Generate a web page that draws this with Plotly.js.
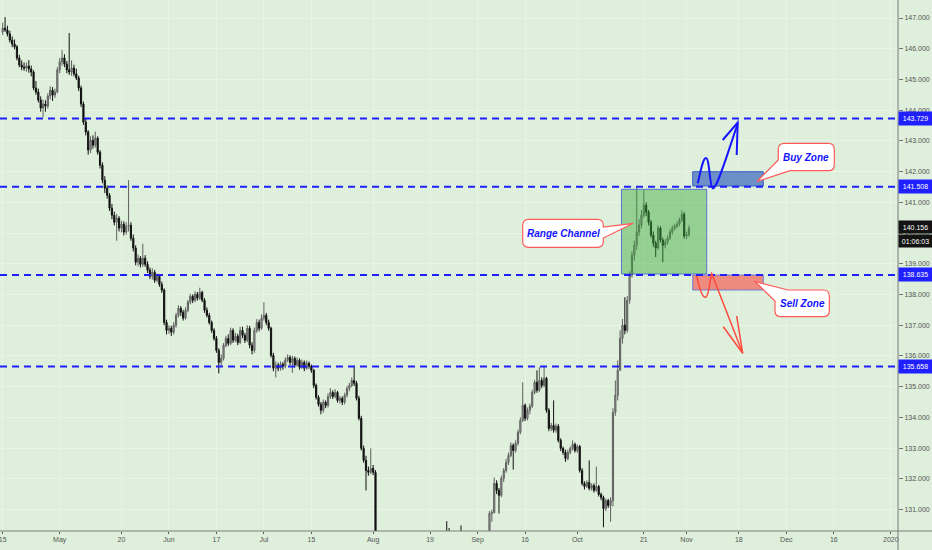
<!DOCTYPE html>
<html><head><meta charset="utf-8">
<script src="https://cdn.plot.ly/plotly-3.0.1.min.js"></script>
<style>html,body{margin:0;padding:0;background:#deefdb;overflow:hidden}</style>
</head><body><div id="chart" style="width:932px;height:550px"></div>
<script>
// ---- data: 12-hour candles, 15 Apr 2019 -> 1 Nov 2019 (weekdays) ----
const opens=[
146.55,146.67,146.61,146.48,146.28,146.15,146.06,145.70,145.47,145.40,
145.37,145.44,145.34,145.24,144.72,144.59,144.33,144.07,144.20,144.13,
144.46,144.65,144.49,144.59,145.31,145.57,145.70,145.50,145.31,145.24,
145.37,145.18,145.05,144.72,144.20,143.61,143.29,142.70,143.02,142.86,
143.09,142.63,142.21,141.72,141.46,141.23,140.81,140.58,140.35,140.48,
140.16,140.29,140.03,140.22,140.25,139.83,139.51,139.05,139.18,138.98,
139.18,138.98,138.79,138.59,138.72,138.46,138.59,138.33,138.14,137.09,
136.83,136.90,136.77,137.00,137.32,137.55,137.42,137.23,137.49,137.75,
137.94,137.81,138.01,137.88,138.07,137.81,137.49,137.32,137.09,136.83,
136.57,136.18,135.79,135.92,136.35,136.57,136.41,136.83,136.51,136.64,
136.44,136.83,136.67,136.51,136.90,136.35,136.18,136.83,137.09,136.90,
137.23,137.32,137.09,136.90,136.02,135.60,135.70,135.60,135.73,135.66,
135.86,135.95,135.79,135.92,135.70,135.86,135.63,135.79,135.60,135.76,
135.66,135.53,135.04,134.65,134.42,134.23,134.49,134.39,134.68,134.81,
134.68,134.81,134.55,134.62,134.49,134.72,134.94,135.04,135.20,135.11,
134.62,133.97,132.99,132.60,132.27,132.21,132.34,132.21,129.25,128.90,
128.45,128.00,127.90,128.40,128.20,127.60,127.90,128.30,128.10,127.90,
127.70,127.40,127.30,127.80,128.30,127.60,127.40,127.90,128.30,128.60,
128.90,
129.10,128.50,128.90,129.20,129.40,129.90,129.80,129.60,
128.90,129.40,129.80,129.90,129.50,129.30,129.00,129.50,129.30,128.90,
128.60,128.20,127.80,127.00,126.80,127.90,128.80,130.87,130.90,131.85,
131.62,131.46,132.01,132.27,132.53,132.76,133.09,132.92,133.15,133.51,
133.90,134.39,133.97,134.23,134.36,134.81,135.14,134.88,135.20,135.04,
135.27,134.23,133.64,133.74,133.58,133.71,133.25,132.99,132.86,132.66,
132.86,132.99,133.12,132.92,133.05,132.27,131.85,131.75,131.88,131.69,
131.78,131.62,131.75,131.49,131.39,131.03,131.29,131.13,131.29,134.16,
134.72,135.53,136.57,137.00,136.83,137.81,138.63,139.28,139.60,140.03,
140.26,140.58,140.91,140.68,140.35,139.93,139.67,139.51,140.16,139.77,
139.60,139.70,139.83,140.03,140.16,140.22,140.29,140.42,140.61,
139.90,139.95];
const highs=[
146.85,147.03,146.75,146.58,146.40,146.30,146.12,145.80,145.62,145.55,
145.55,145.63,145.45,145.30,144.95,144.70,144.45,144.35,144.32,144.55,
144.78,144.75,144.70,145.40,145.70,145.96,145.82,145.60,146.51,145.62,
145.48,145.35,145.12,144.80,144.28,143.72,143.35,143.15,143.18,143.30,
143.15,142.70,142.30,141.85,141.55,141.30,140.95,140.70,140.62,140.55,
140.40,140.38,140.35,141.72,140.35,139.95,139.60,139.30,139.25,139.65,
139.28,139.08,138.88,138.85,138.80,138.68,138.65,138.42,138.20,137.18,
137.00,136.98,137.10,137.40,137.65,137.62,137.50,137.58,137.82,138.02,
138.00,138.10,138.08,138.22,138.12,137.88,137.58,137.40,137.15,136.90,
136.65,136.25,136.05,136.42,136.65,136.70,136.92,136.90,136.75,136.72,
136.95,136.95,136.75,137.00,136.98,136.45,136.92,137.20,137.18,137.35,
137.75,137.40,137.18,136.95,136.10,135.82,135.78,135.82,135.80,135.95,
136.05,136.02,136.00,135.98,135.95,135.92,135.88,135.85,135.85,135.82,
135.72,135.58,135.10,134.72,134.50,134.58,134.55,134.78,134.95,134.88,
134.92,134.86,134.70,134.68,134.80,135.02,135.12,135.30,135.66,135.18,
134.70,134.05,133.08,132.75,132.40,132.99,132.45,132.28,129.40,129.05,
128.55,128.20,128.50,128.55,128.30,128.00,128.40,128.45,128.20,128.00,
127.80,127.55,127.90,128.40,128.35,127.70,128.00,128.40,128.70,129.00,
129.25,
129.20,129.00,129.30,129.50,130.00,130.30,130.62,130.40,
129.50,129.90,130.30,130.20,130.48,129.40,129.60,129.60,129.40,129.00,
128.70,128.30,127.90,127.10,128.00,128.90,130.95,131.00,132.04,131.95,
131.70,132.10,132.35,132.65,132.85,133.18,133.15,133.25,133.60,134.00,
135.14,134.45,134.32,134.45,134.90,135.22,135.53,135.63,135.30,135.66,
135.32,134.30,133.82,134.55,133.80,133.78,133.32,133.05,132.95,132.95,
133.05,133.25,133.18,133.12,133.10,132.35,131.92,131.95,132.60,131.85,
131.85,132.40,131.80,131.55,131.45,131.35,131.35,131.40,134.30,135.20,
135.85,136.83,137.20,137.91,137.95,138.75,139.40,139.75,141.53,140.45,
140.75,141.40,141.00,140.75,140.42,140.05,139.75,140.25,140.22,139.85,
139.80,139.92,140.12,140.25,140.30,140.38,140.50,140.74,140.68,
140.05,140.25];
const lows=[
146.45,146.55,146.40,146.20,146.05,145.98,145.62,145.40,145.30,145.28,
145.25,145.22,145.10,144.65,144.50,144.25,143.95,143.77,143.95,144.05,
144.35,144.30,144.40,144.55,145.20,145.45,145.40,145.20,145.15,145.12,
145.10,144.98,144.62,144.10,143.52,143.18,142.55,142.60,142.75,142.78,
142.55,142.10,141.62,141.30,141.12,140.72,140.45,140.25,139.75,140.05,
140.02,139.92,139.95,140.05,139.75,139.40,138.95,138.92,138.88,138.90,
138.90,138.70,138.50,138.48,138.38,138.40,138.25,138.05,137.00,136.70,
136.72,136.65,136.70,136.92,137.25,137.30,137.15,137.18,137.42,137.68,
137.72,137.75,137.80,137.82,137.75,137.40,137.25,137.02,136.75,136.50,
136.10,135.43,135.65,135.85,136.28,136.32,136.35,136.42,136.45,136.35,
136.38,136.58,136.42,136.45,136.25,136.05,136.10,136.75,136.80,136.85,
137.15,137.00,136.82,135.95,135.50,135.30,135.50,135.52,135.55,135.60,
135.80,135.70,135.45,135.62,135.65,135.55,135.58,135.50,135.55,135.58,
135.45,134.95,134.58,134.35,134.10,134.15,134.30,134.32,134.60,134.60,
134.62,134.48,134.45,134.40,134.42,134.65,134.85,134.98,135.02,134.55,
133.90,132.92,132.52,131.62,132.10,132.15,132.12,129.10,128.70,128.30,
127.80,127.75,127.85,128.10,127.45,127.50,127.80,128.00,127.80,127.60,
127.30,127.15,127.20,127.70,127.50,127.30,127.35,127.80,128.20,128.50,
128.80,
128.40,128.40,128.80,129.10,129.30,129.70,129.50,128.80,
128.70,129.30,129.70,129.40,129.20,128.90,128.90,129.20,128.80,128.50,
128.10,127.70,126.90,126.55,126.70,127.80,128.70,130.60,130.87,131.50,
130.87,131.40,131.90,132.20,132.45,132.70,132.30,132.85,133.08,133.45,
133.85,133.88,133.90,134.10,134.30,134.75,134.80,134.82,134.95,134.98,
134.15,133.55,133.55,133.50,133.50,133.18,132.90,132.78,132.55,132.60,
132.80,132.92,132.85,132.85,132.20,131.78,131.65,131.70,131.62,131.62,
131.55,131.58,131.42,131.30,130.42,130.95,131.05,130.60,131.10,134.05,
134.55,135.53,136.40,136.70,136.75,137.70,138.55,139.10,139.45,139.90,
140.15,140.50,140.55,140.25,139.85,139.55,139.22,139.45,139.70,139.05,
139.50,139.62,139.78,139.95,140.08,140.15,140.22,140.35,139.82,
139.80,139.88];
const closes=[
146.67,146.61,146.48,146.28,146.15,146.06,145.70,145.47,145.40,145.37,
145.44,145.34,145.24,144.72,144.59,144.33,144.07,144.20,144.13,144.46,
144.65,144.49,144.59,145.31,145.57,145.70,145.50,145.31,145.24,145.37,
145.18,145.05,144.72,144.20,143.61,143.29,142.70,143.02,142.86,143.09,
142.63,142.21,141.72,141.46,141.23,140.81,140.58,140.35,140.48,140.16,
140.29,140.03,140.22,140.25,139.83,139.51,139.05,139.18,138.98,139.18,
138.98,138.79,138.59,138.72,138.46,138.59,138.33,138.14,137.09,136.83,
136.90,136.77,137.00,137.32,137.55,137.42,137.23,137.49,137.75,137.94,
137.81,138.01,137.88,138.07,137.81,137.49,137.32,137.09,136.83,136.57,
136.18,135.79,135.92,136.35,136.57,136.41,136.83,136.51,136.64,136.44,
136.83,136.67,136.51,136.90,136.35,136.18,136.83,137.09,136.90,137.23,
137.32,137.09,136.90,136.02,135.60,135.70,135.60,135.73,135.66,135.86,
135.95,135.79,135.92,135.70,135.86,135.63,135.79,135.60,135.76,135.66,
135.53,135.04,134.65,134.42,134.23,134.49,134.39,134.68,134.81,134.68,
134.81,134.55,134.62,134.49,134.72,134.94,135.04,135.20,135.11,134.62,
133.97,132.99,132.60,132.27,132.21,132.34,132.21,129.25,128.90,128.45,
128.00,127.90,128.40,128.20,127.60,127.90,128.30,128.10,127.90,127.70,
127.40,127.30,127.80,128.30,127.60,127.40,127.90,128.30,128.60,128.90,
129.10,
128.50,128.90,129.20,129.40,129.90,129.80,129.60,128.90,
129.40,129.80,129.90,129.50,129.30,129.00,129.50,129.30,128.90,128.60,
128.20,127.80,127.00,126.80,127.90,128.80,130.87,130.90,131.85,131.62,
131.46,132.01,132.27,132.53,132.76,133.09,132.92,133.15,133.51,133.90,
134.39,133.97,134.23,134.36,134.81,135.14,134.88,135.20,135.04,135.27,
134.23,133.64,133.74,133.58,133.71,133.25,132.99,132.86,132.66,132.86,
132.99,133.12,132.92,133.05,132.27,131.85,131.75,131.88,131.69,131.78,
131.62,131.75,131.49,131.39,131.03,131.29,131.13,131.29,134.16,134.72,
135.53,136.57,137.00,136.83,137.81,138.63,139.28,139.60,140.03,140.26,
140.58,140.91,140.68,140.35,139.93,139.67,139.51,140.16,139.77,139.60,
139.70,139.83,140.03,140.16,140.22,140.29,140.42,140.61,139.90,
139.95,140.16];
const firstSession='2019-04-15';
const tickDates=['2019-04-15','2019-05-01','2019-05-20','2019-06-03','2019-06-17','2019-07-01','2019-07-15','2019-08-01','2019-08-19','2019-09-02','2019-09-16','2019-10-01','2019-10-21','2019-11-01','2019-11-18','2019-12-02','2019-12-16','2020-01-01'];
const tickLabels=['15','May','20','Jun','17','Jul','15','Aug','19','Sep','16','Oct','21','Nov','18','Dec','16','2020'];
const levels=[143.729,141.508,138.635,135.658];
const levelLabels=['143.729','141.508','138.635','135.658'];
const lastPrice=140.156, lastPriceLabel='140.156', countdownLabel='01:06:03';
const calloutTexts=['Range Channel','Buy Zone','Sell Zone'];

// ---- 12h session timestamps (weekdays only) ----
const times=[];
(function(){const d=new Date(firstSession+'T00:00:00Z');
 while(times.length<closes.length){const wd=d.getUTCDay();
  if(wd!==0&&wd!==6){const s=d.toISOString().slice(0,10);times.push(s+' 00:00');times.push(s+' 12:00');}
  d.setUTCDate(d.getUTCDate()+1);}
 times.length=closes.length;})();

// ---- drawing helpers (pixel -> paper) ----
const W=898,H=531;
const fx=x=>(x/W).toFixed(5), fy=y=>(1-y/H).toFixed(5);
function path(cmds){return cmds.map(c=>{let s=c[0];const n=c.slice(1);
  for(let k=0;k<n.length;k+=2){s+=(k?' ':'')+fx(n[k])+','+fy(n[k+1]);}return s;}).join(' ');}
const FONT="'Liberation Sans Narrow','Liberation Sans',Arial,sans-serif";
const BG='#deefdb', GRID='#e9f4e6';

const shapes=[];
shapes.push({type:'rect',xref:'paper',yref:'paper',x0:fx(621.5),x1:fx(706.7),y0:fy(274),y1:fy(189.3),
  fillcolor:'rgba(60,170,60,0.45)',line:{color:'rgba(70,100,210,0.85)',width:1}});
shapes.push({type:'rect',xref:'paper',yref:'paper',x0:fx(692.7),x1:fx(763.3),y0:fy(186),y1:fy(171.7),
  fillcolor:'#6b8fc6',line:{color:'#3b5fc8',width:1}});
shapes.push({type:'rect',xref:'paper',yref:'paper',x0:fx(692.7),x1:fx(763.3),y0:fy(290),y1:fy(275),
  fillcolor:'#ec8b7e',line:{color:'rgba(90,110,220,0.8)',width:1}});
levels.forEach(v=>shapes.push({type:'line',xref:'paper',yref:'y',x0:0,x1:1,y0:v,y1:v,
  line:{color:'#1f1fff',width:2,dash:'7px,5px'}}));
shapes.push({type:'path',xref:'paper',yref:'paper',line:{color:'#1414ff',width:2},
  path:path([['M',697.7,183.3],['C',700.5,172,703,158,706,158],['C',709.5,158,710,188.5,712.7,188.5],['C',716,188.5,722,170,726.7,156.7],['L',737.7,123.5]])});
shapes.push({type:'path',xref:'paper',yref:'paper',line:{color:'#1414ff',width:2},
  path:path([['M',722.7,140],['L',737.7,122.5],['L',736.7,155]])});
shapes.push({type:'path',xref:'paper',yref:'paper',line:{color:'#ff4a3d',width:1.5},
  path:path([['M',696.7,276],['C',699,287,702,297.3,705.5,297.3],['C',709,297.3,710,279,711.7,273.5],['L',742.7,353.3]])});
shapes.push({type:'path',xref:'paper',yref:'paper',line:{color:'#ff4a3d',width:1.5},
  path:path([['M',723.3,326.7],['L',742.7,353.3],['L',736.7,316]])});
const cl={fillcolor:'#ffffff',line:{color:'#ff5a5a',width:1.2},xref:'paper',yref:'paper',type:'path'};
(function(){let x0=522.7,x1=603.3,y0=219.3,y1=247.3,r=6;
 shapes.push(Object.assign({},cl,{path:path([['M',x0+r,y0],['L',x1-r,y0],['Q',x1,y0,x1,y0+r],['L',x1,227],['L',633.3,223.3],['L',x1,238],['L',x1,y1-r],['Q',x1,y1,x1-r,y1],['L',x0+r,y1],['Q',x0,y1,x0,y1-r],['L',x0,y0+r],['Q',x0,y0,x0+r,y0],['Z']])}));
 x0=778.3;x1=834.3;y0=143.3;y1=170.7;
 shapes.push(Object.assign({},cl,{path:path([['M',x0+r,y0],['L',x1-r,y0],['Q',x1,y0,x1,y0+r],['L',x1,y1-r],['Q',x1,y1,x1-r,y1],['L',790,y1],['L',757,181.5],['L',x0,160],['L',x0,y0+r],['Q',x0,y0,x0+r,y0],['Z']])}));
 x0=775;x1=829.3;y0=290;y1=316.7;
 shapes.push(Object.assign({},cl,{path:path([['M',788,y0],['L',x1-r,y0],['Q',x1,y0,x1,y0+r],['L',x1,y1-r],['Q',x1,y1,x1-r,y1],['L',x0+r,y1],['Q',x0,y1,x0,y1-r],['L',x0,301],['L',755,281.5],['Z']])}));
})();
shapes.push({type:'line',xref:'paper',yref:'paper',x0:0,x1:932/W,y0:0,y1:0,line:{color:'#7d7d7d',width:1}});
shapes.push({type:'line',xref:'paper',yref:'paper',x0:1,x1:1,y0:-19/H,y1:1,line:{color:'#7d7d7d',width:1}});

const annotations=[];
const tagFont={color:'#ffffff',size:7,family:FONT};
levels.forEach((v,i)=>annotations.push({xref:'paper',x:1,xanchor:'left',yref:'y',y:v,text:levelLabels[i],showarrow:false,
  bgcolor:'#2020ff',font:tagFont,width:29,height:9,borderpad:2}));
annotations.push({xref:'paper',x:1,xanchor:'left',yref:'y',y:lastPrice,yshift:1,text:lastPriceLabel,showarrow:false,
  bgcolor:'#131313',font:tagFont,width:29,height:8,borderpad:2});
annotations.push({xref:'paper',x:1,xanchor:'left',yref:'y',y:lastPrice,yshift:-13,text:countdownLabel,showarrow:false,
  bgcolor:'#131313',font:tagFont,width:29,height:8,borderpad:2});
const cpos=[[563,233.3],[806.3,157],[802,303.3]];
calloutTexts.forEach((t,i)=>annotations.push({xref:'paper',yref:'paper',x:fx(cpos[i][0]),y:fy(cpos[i][1]),
  xanchor:'center',yanchor:'middle',showarrow:false,text:'<b><i>'+t+'</i></b>',
  font:{color:'#1414ff',size:10,family:"'Liberation Sans',Arial,sans-serif"}}));

const trace={type:'candlestick',x:times,open:opens,high:highs,low:lows,close:closes,
  increasing:{line:{color:'#606060',width:1},fillcolor:'#9b9e9b'},
  decreasing:{line:{color:'#111111',width:1},fillcolor:'#111111'},
  hoverinfo:'none',showlegend:false};

const layout={width:932,height:550,margin:{l:0,r:34,t:0,b:19},
  paper_bgcolor:BG,plot_bgcolor:BG,showlegend:false,dragmode:false,
  xaxis:{type:'date',range:['2019-04-12 10:21','2020-01-02 12:29'],rangebreaks:[{bounds:['sat','mon']}],
    rangeslider:{visible:false},tickmode:'array',tickvals:tickDates,ticktext:tickLabels,ticklabeloverflow:'allow',
    ticks:'outside',ticklen:2,tickcolor:'#555',tickfont:{size:7,color:'#555',family:FONT},
    showgrid:true,gridcolor:GRID,gridwidth:1,showline:false,zeroline:false,fixedrange:true},
  yaxis:{side:'right',range:[130.30,147.586],tickmode:'linear',tick0:131,dtick:1,tickformat:'.3f',
    ticks:'outside',ticklen:4,tickcolor:'#777',tickfont:{size:7,color:'#555',family:FONT},ticklabeloverflow:'allow',
    showgrid:true,gridcolor:GRID,gridwidth:1,showline:false,zeroline:false,fixedrange:true},
  shapes:shapes,annotations:annotations};

Plotly.newPlot('chart',[trace],layout,{staticPlot:true,displayModeBar:false});
</script></body></html>
